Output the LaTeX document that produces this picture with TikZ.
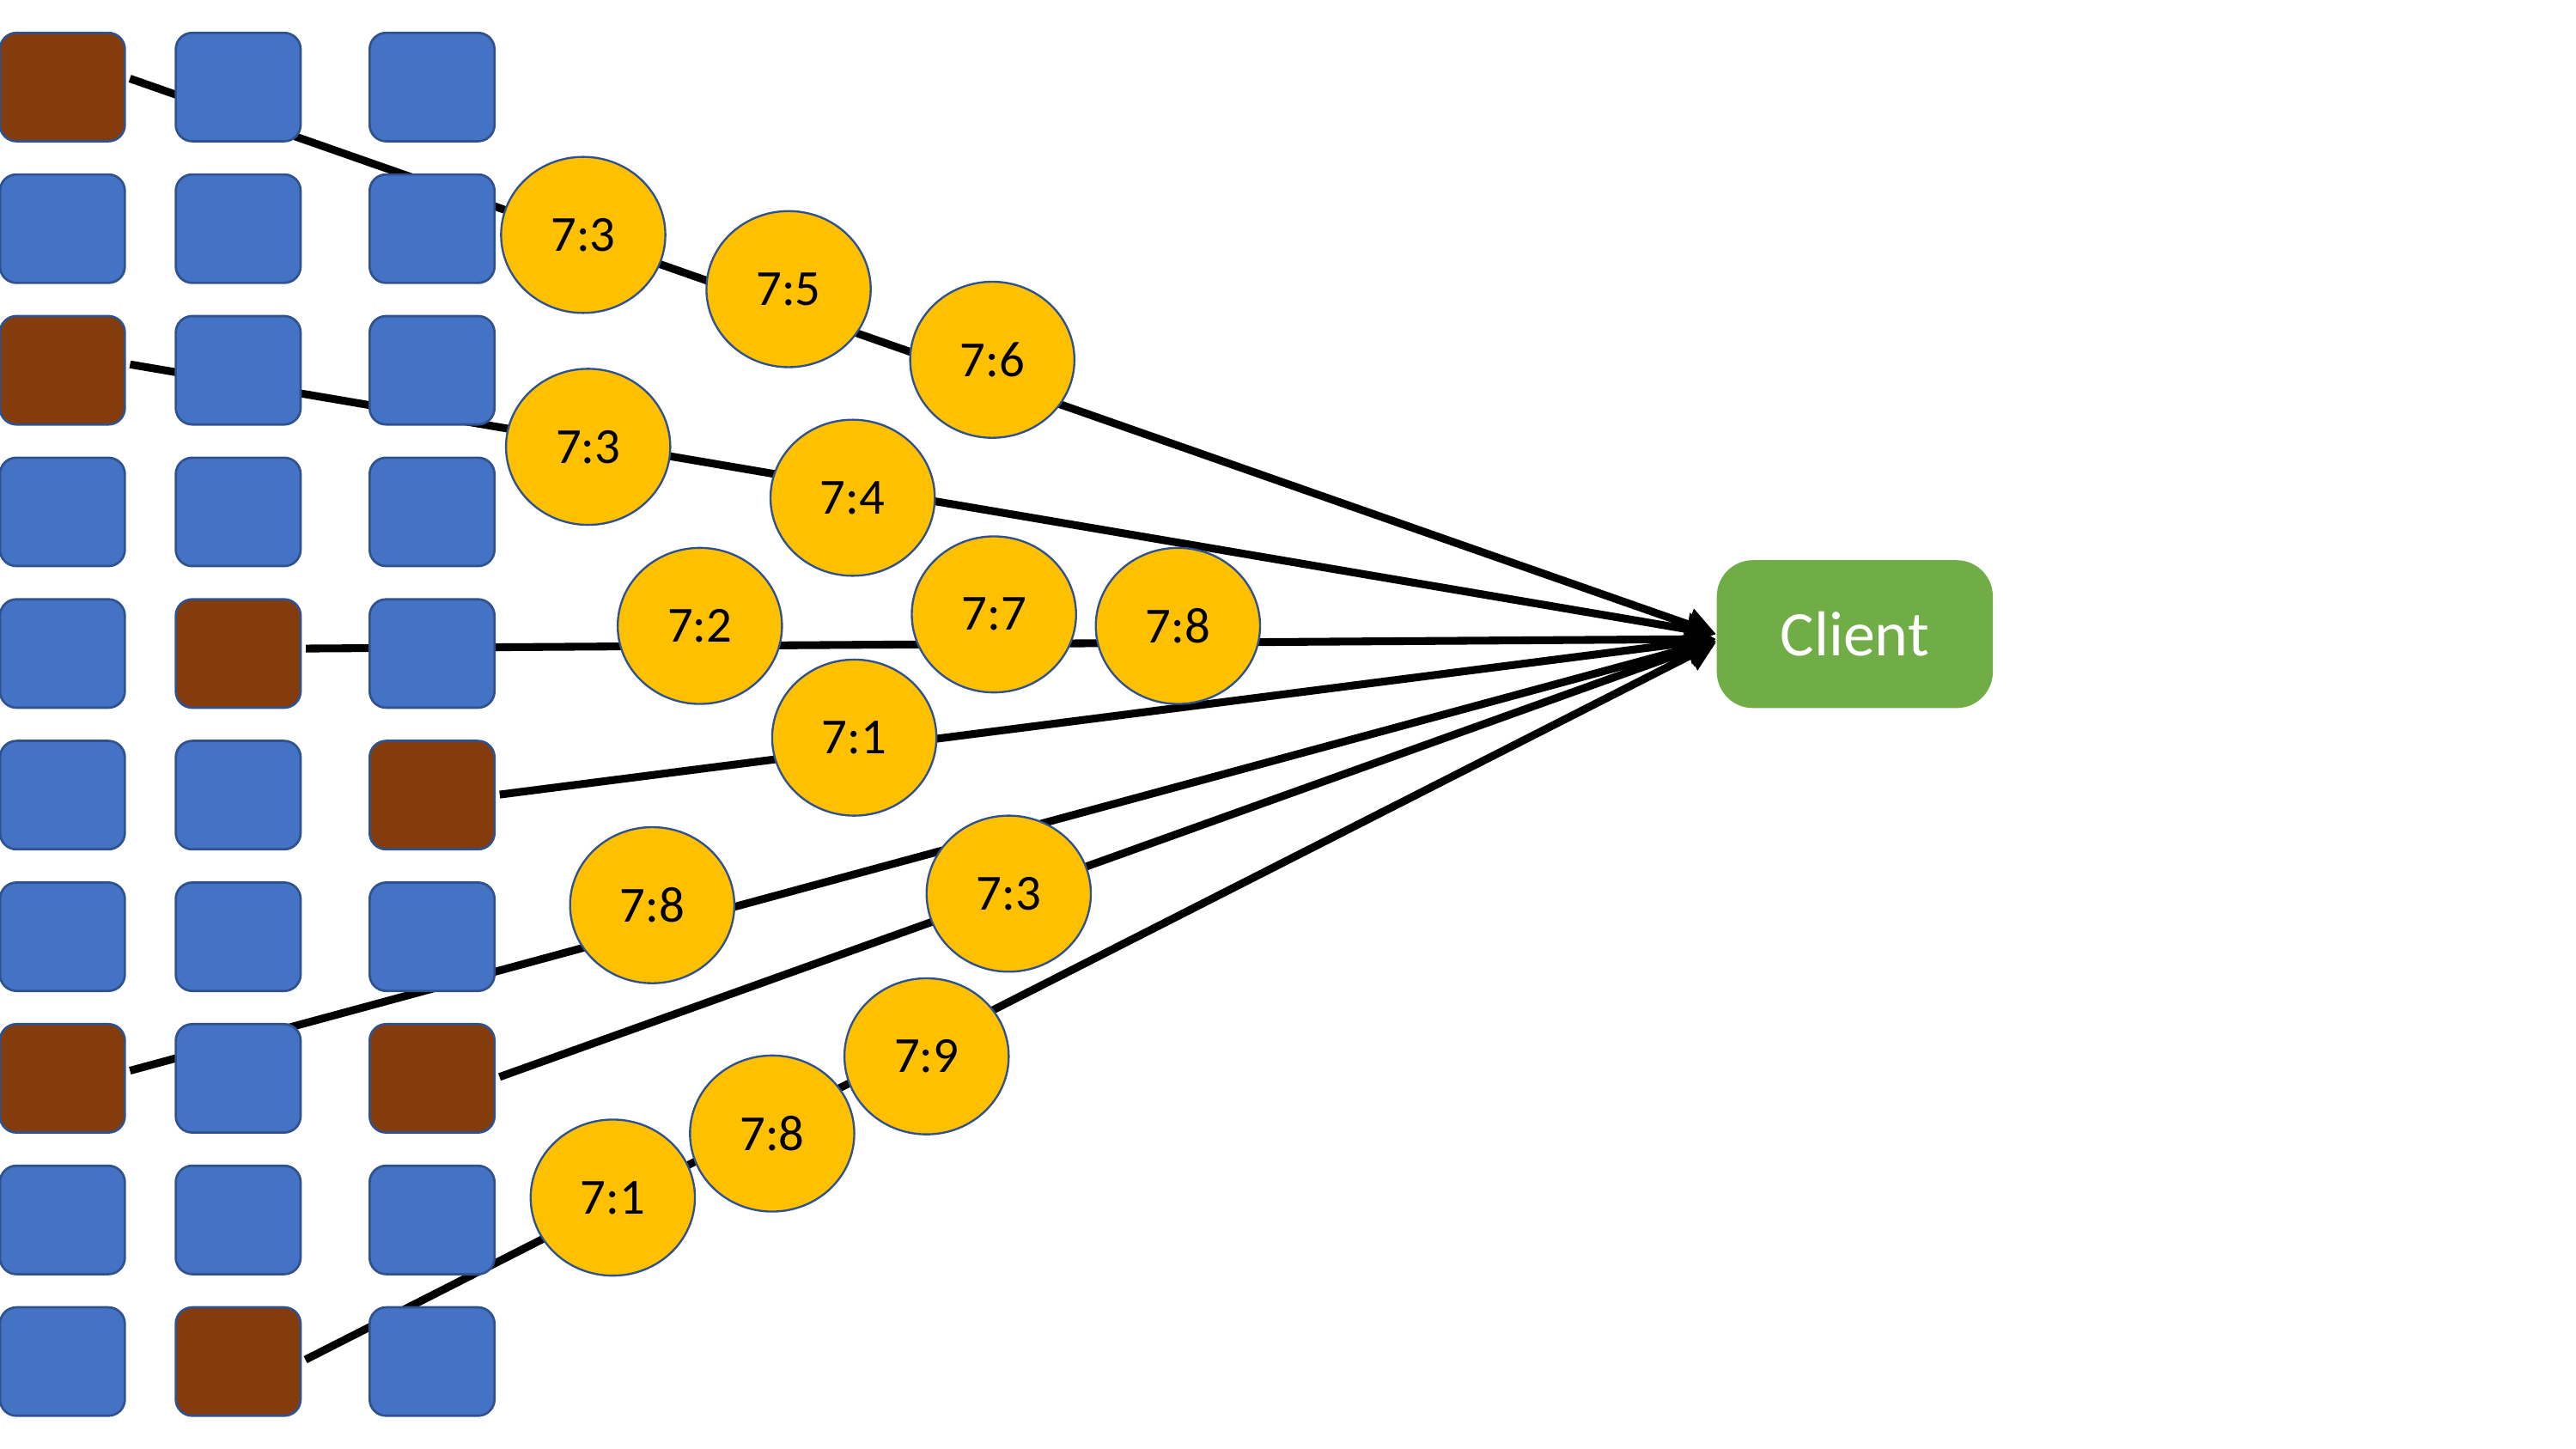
\documentclass[tikz,border=0pt]{standalone}
\usepackage{fontspec}
\setmainfont{Carlito}
\usetikzlibrary{shapes.geometric,arrows.meta,backgrounds}
\definecolor{cellblue}{HTML}{4472C4}
\definecolor{rust}{HTML}{843C0C}
\definecolor{edgeblue}{HTML}{2F528F}
\definecolor{amber}{HTML}{FFC000}
\definecolor{leaf}{HTML}{70AD47}

\begin{document}
\begin{tikzpicture}[x=0.2mm,y=-0.2mm,
    cell/.style={draw=edgeblue,line width=0.8pt,rounded corners=2mm,minimum width=15.2mm,minimum height=13.2mm,inner sep=0pt},
    token/.style={ellipse,draw=edgeblue,line width=0.7pt,fill=amber,minimum width=20mm,minimum height=19mm,inner sep=0pt,font=\fontsize{17.5}{20}\selectfont},
    clientbox/.style={fill=leaf,text=white,rounded corners=4.4mm,minimum width=33.6mm,minimum height=18mm,inner sep=0pt,font=\fontsize{22}{26}\selectfont},
    arr/.style={draw,line width=2.7pt,shorten <=0.5mm,-{Triangle[length=3.6mm,width=3.8mm]}}]
    \useasboundingbox (0,0) rectangle (1568,882);

    % grid of shards, three columns a b c
    \foreach \r/\ca/\cb/\cc in {1/rust/cellblue/cellblue, 2/cellblue/cellblue/cellblue,
        3/rust/cellblue/cellblue, 4/cellblue/cellblue/cellblue, 5/cellblue/rust/cellblue,
        6/cellblue/cellblue/rust, 7/cellblue/cellblue/cellblue, 8/rust/cellblue/rust,
        9/cellblue/cellblue/cellblue, 10/cellblue/rust/cellblue} {
      \node[cell,fill=\ca] (a\r) at (38,{53+86.2*(\r-1)}) {};
      \node[cell,fill=\cb] (b\r) at (145,{53+86.2*(\r-1)}) {};
      \node[cell,fill=\cc] (c\r) at (263,{53+86.2*(\r-1)}) {};
    }

    \node[clientbox] (client) at (1129,386) {Client};

    \node[token] (kaone) at (355,143) {7:3};
    \node[token] (katwo) at (480,176) {7:5};
    \node[token] (kathree) at (604,219) {7:6};

    \node[token] (kbone) at (358,272) {7:3};
    \node[token] (kbtwo) at (519,303) {7:4};

    \node[token] (kcone) at (426,381) {7:2};
    \node[token] (kctwo) at (605,374) {7:7};
    \node[token] (kcthree) at (717,381) {7:8};

    \node[token] (kdone) at (520,449) {7:1};
    \node[token] (keone) at (397,551) {7:8};
    \node[token] (kfone) at (614,544) {7:3};

    \node[token] (kgone) at (373,729) {7:1};
    \node[token] (kgtwo) at (470,690) {7:8};
    \node[token] (kgthree) at (564,643) {7:9};

    \begin{scope}[on background layer]
      \draw[arr] ([yshift=1.2mm]a1.east) -- (client.west);
      \draw[arr] ([yshift=0.8mm]a3.east) -- (client.west);
      \draw[arr] ([yshift=0.6mm]b5.east) -- ([yshift=-0.6mm]client.west);
      \draw[arr] (c6.east) -- ([yshift=-0.6mm]client.west);
      \draw[arr] ([yshift=0.8mm]a8.east) -- ([yshift=-0.8mm]client.west);
      \draw[arr] (c8.east) -- ([yshift=-0.8mm]client.west);
      \draw[arr] (b10.east) -- ([yshift=-1mm]client.west);
    \end{scope}
\end{tikzpicture}
\end{document}
